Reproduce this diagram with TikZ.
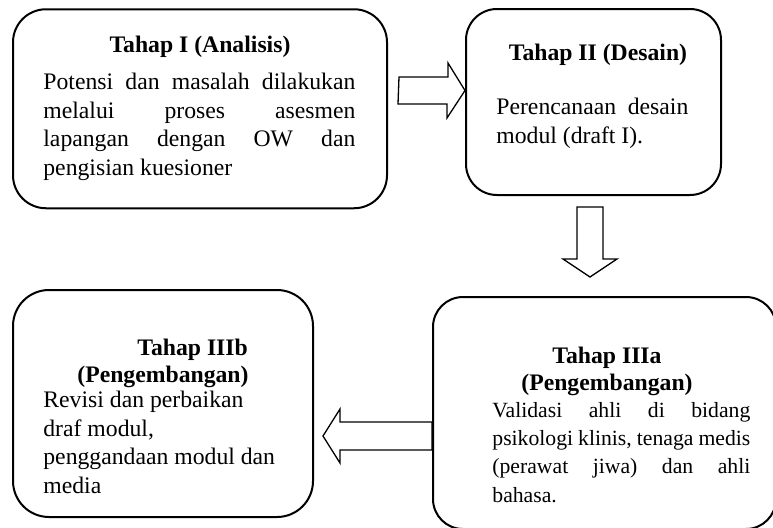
\documentclass[tikz,border=0pt]{standalone}
\usepackage{fontspec}
\setmainfont{Liberation Serif}
\usetikzlibrary{calc}
\newcommand\jline[2]{\makebox[#1][s]{#2}}
\begin{document}
\begin{tikzpicture}[x=0.5pt,y=-0.5pt,
  box/.style={draw, line width=1pt, inner sep=0pt},
  blockarrow/.style={draw, line width=0.65pt, line join=miter},
  ttl/.style={inner sep=0pt, font=\fontsize{11.85}{13.5}\selectfont\bfseries, align=center},
  body/.style={inner sep=0pt, font=\fontsize{11.85}{14.2}\selectfont, align=left, anchor=base west},
]
\useasboundingbox (0,0) rectangle (773,527);
% boxes
\node[box, rounded corners=16.5pt, minimum width=187pt, minimum height=99.5pt] (b1) at (200,108.75) {};
\node[box, rounded corners=15.5pt, minimum width=127.5pt, minimum height=93pt] (b2) at (593.5,102) {};
\node[box, rounded corners=18pt, minimum width=150pt, minimum height=113.5pt] (b3) at (163,403.5) {};
\node[box, rounded corners=15pt, minimum width=171.5pt, minimum height=116pt] (b4) at (604.5,413) {};
% texts (multi-line nodes: base = last line)
\node[ttl, anchor=base] (t1) at (200,52) {Tahap I (Analisis)};
\node[body] (x1) at (43,175) {\jline{156pt}{Potensi dan masalah dilakukan}\\
  \jline{156pt}{melalui proses asesmen}\\
  \jline{156pt}{lapangan dengan OW dan}\\
  pengisian kuesioner};
\node[ttl, anchor=base] (t2) at (598,60) {Tahap II (Desain)};
\node[body] (x2) at (496,143) {\jline{96pt}{Perencanaan desain}\\
  modul (draft I).};
\node[ttl, anchor=base west, align=left] (t3) at (77,382) {\hspace*{30pt}Tahap IIIb\\(Pengembangan)};
\node[body] (x3) at (43,493) {Revisi dan perbaikan\\draf modul,\\penggandaan modul dan\\media};
\node[ttl, anchor=base] (t4) at (607,390) {Tahap IIIa\\(Pengembangan)};
\node[body, font=\fontsize{10.85}{14.15}\selectfont] (x4) at (492,502) {\jline{129pt}{Validasi ahli di bidang}\\
  \jline{129pt}{psikologi klinis, tenaga medis}\\
  \jline{129pt}{(perawat jiwa) dan ahli}\\
  bahasa.};
% block arrows
\coordinate (r1) at (399,90.5);
\coordinate (d1) at (590,207);
\coordinate (l1) at (b4.west |- 0,436);
\draw[blockarrow] (r1) ++(0,-13.5) -- ++(49,0) -- ++(0,-14) -- (b2.west |- r1) -- ++(-18,27.5) -- ++(0,-14) -- ++(-49,0) -- cycle;
\draw[blockarrow] (d1) ++(-13,0) -- ++(26,0) -- ++(0,52) -- ++(14,0) -- ++(-27,18) -- ++(-27,-18) -- ++(14,0) -- cycle;
\draw[blockarrow] (l1) ++(0,-14) -- (340,422) -- (340,409) -- (323,436) -- (340,463) -- (340,450) -- ($(l1)+(0,14)$) -- cycle;
\end{tikzpicture}
\end{document}
